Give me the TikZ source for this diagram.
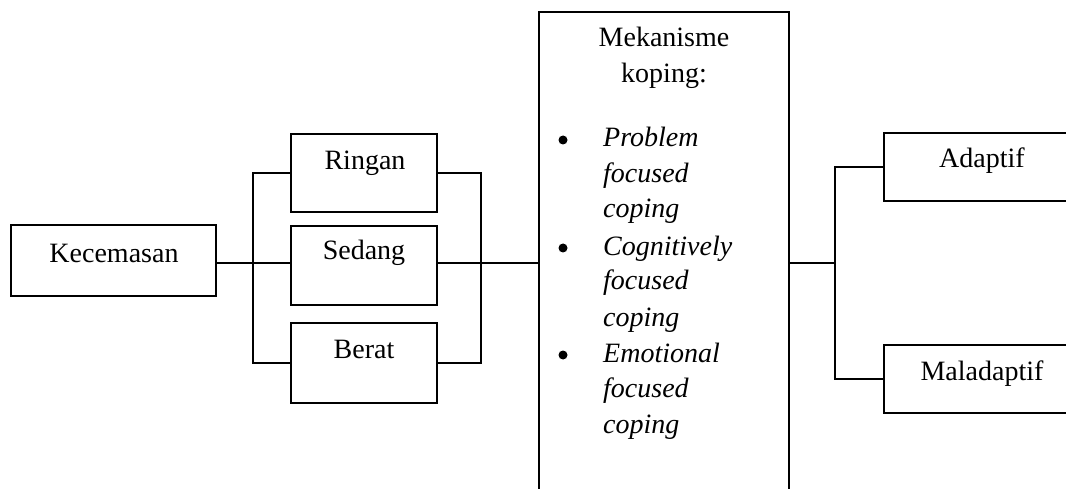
\documentclass[tikz,border=0pt]{standalone}
\usepackage{fontspec}
\setmainfont{Liberation Serif}
\begin{document}
\begin{tikzpicture}[x=1pt,y=-1pt,
  box/.style={draw=black,line width=2.2pt,rectangle,inner sep=0pt,fill=white},
  lbl/.style={anchor=base,inner sep=0pt,font=\fontsize{28}{36}\selectfont},
  itm/.style={anchor=base west,inner sep=0pt,font=\fontsize{28}{36}\selectfont\itshape},
  bul/.style={circle,fill=black,inner sep=0pt,minimum size=9pt},
  conn/.style={draw=black,line width=2.2pt}]
\useasboundingbox (0,0) rectangle (1066,489);
\clip (0,0) rectangle (1066,489);
\fill[white] (0,0) rectangle (1066,489);
% boxes
\node[box,minimum width=205pt,minimum height=71pt] (kec) at (113.5,260.5) {};
\node[box,minimum width=146pt,minimum height=78pt] (rin) at (364,173) {};
\node[box,minimum width=146pt,minimum height=79pt] (sed) at (364,265.5) {};
\node[box,minimum width=146pt,minimum height=80pt] (ber) at (364,363) {};
\node[box,minimum width=250pt,minimum height=510pt] (mek) at (664,267) {};
\node[box,minimum width=196pt,minimum height=68pt] (ada) at (982,167) {};
\node[box,minimum width=196pt,minimum height=68pt] (mal) at (982,379) {};
% texts
\node[lbl] (kect) at (114,262) {Kecemasan};
\node[lbl] (rint) at (365,170) {Ringan};
\node[lbl] (sedt) at (364,260) {Sedang};
\node[lbl] (bert) at (364,358) {Berat};
\node[lbl] (adat) at (982,168) {Adaptif};
\node[lbl] (malt) at (982,380) {Maladaptif};
\node[lbl] (m1) at (664,47) {Mekanisme};
\node[lbl] (m2) at (664,83) {koping:};
\node[bul] (b1) at (563,140) {};
\node[bul] (b2) at (563,248) {};
\node[bul] (b3) at (563,355) {};
\node[itm] (p1) at (603,147) {Problem};
\node[itm] (p2) at (603,183) {focused};
\node[itm] (p3) at (603,218) {coping};
\node[itm] (c1) at (603,255) {Cognitively};
\node[itm] (c2) at (603,290) {focused};
\node[itm] (c3) at (603,326) {coping};
\node[itm] (e1) at (603,362) {Emotional};
\node[itm] (e2) at (603,397) {focused};
\node[itm] (e3) at (603,433) {coping};
% bracket coordinates
\coordinate (lb) at (253,263);
\coordinate (rb) at (481,263);
\coordinate (ob) at (835,263);
% left connectors
\draw[conn] (kec.east |- lb) -- (sed.west |- lb);
\draw[conn] (rin.west) -| (lb) |- (ber.west);
% right bracket
\draw[conn] (rin.east) -| (rb) |- (ber.east);
\draw[conn] (sed.east |- rb) -- (mek.west |- rb);
% output
\draw[conn] (mek.east |- ob) -- (ob);
\draw[conn] (ada.west) -| (ob) |- (mal.west);
\end{tikzpicture}
\end{document}
